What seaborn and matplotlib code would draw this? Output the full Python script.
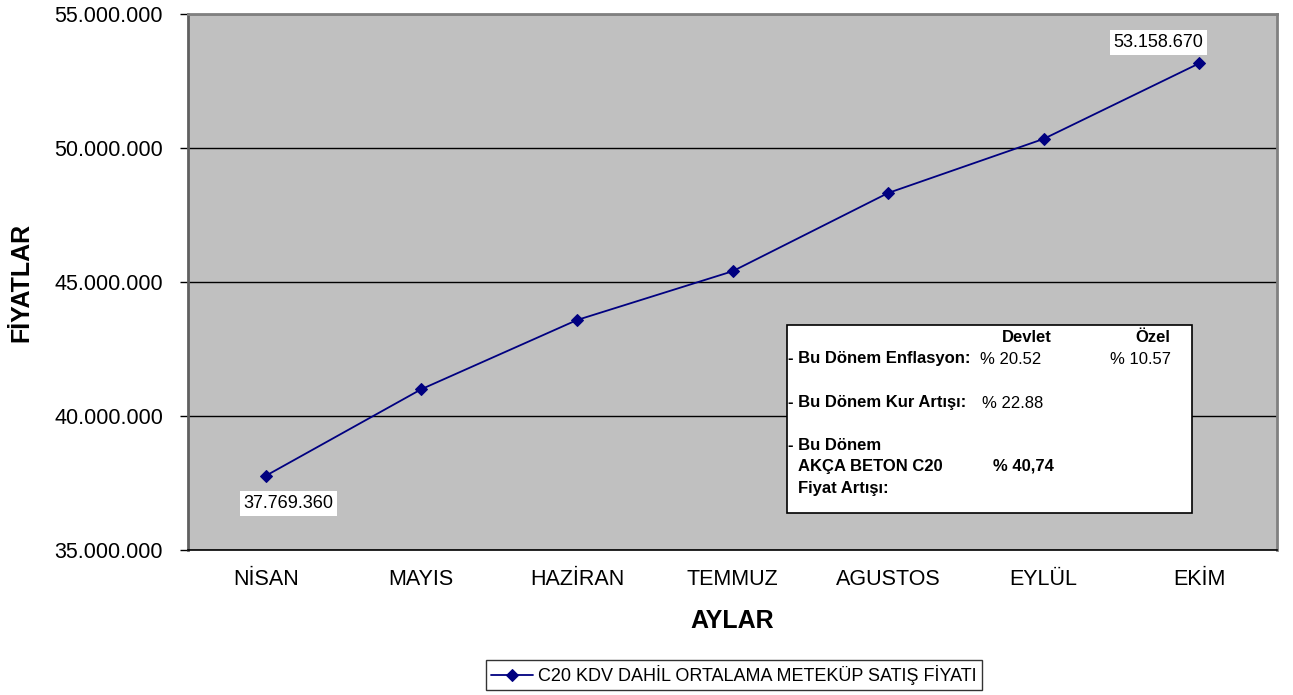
import matplotlib
matplotlib.use("Agg")
import matplotlib.pyplot as plt
import seaborn as sns
import pandas as pd
from matplotlib.ticker import FuncFormatter, FixedLocator
from matplotlib.patches import Rectangle

months = ["NİSAN", "MAYIS", "HAZİRAN", "TEMMUZ", "AGUSTOS", "EYLÜL", "EKİM"]
prices = [37769360, 41000000, 43580000, 45400000, 48320000, 50340000, 53158670]
series_name = "C20 KDV DAHİL ORTALAMA METEKÜP SATIŞ FİYATI"
y_ticks = [35000000, 40000000, 45000000, 50000000, 55000000]

sns.set_style("white")
plt.rcParams["font.family"] = ["Liberation Sans", "DejaVu Sans"]
plt.rcParams.update({"text.color": "black", "axes.labelcolor": "black",
                     "xtick.color": "black", "ytick.color": "black"})

W, H = 1293, 695
fig = plt.figure(figsize=(W / 100, H / 100), dpi=100)
ax = fig.add_axes([188 / W, 1 - 550 / H, 1089 / W, 536 / H])
ax.set_facecolor("#C0C0C0")

df = pd.DataFrame({"month": months, "price": prices, "series": series_name})
df["x"] = range(len(months))
sns.lineplot(data=df, x="x", y="price", hue="series", palette=["#000080"],
             marker="D", markersize=6, markeredgecolor="#000080",
             linewidth=1.3, ax=ax, legend=True, sort=False)

ax.set_xlim(-0.5, len(months) - 0.5)
ax.set_ylim(y_ticks[0], y_ticks[-1])
ax.set_yticks(y_ticks)
ax.yaxis.set_major_formatter(FuncFormatter(lambda v, p: f"{v:,.0f}".replace(",", ".")))
ax.set_xticks(range(len(months)))
ax.set_xticklabels(months)
ax.xaxis.set_minor_locator(FixedLocator([i - 0.5 for i in range(len(months) + 1)]))
ax.tick_params(axis="x", which="major", length=0, pad=14, labelsize=15.5)
ax.tick_params(axis="x", which="minor", length=6, width=1, color="black", direction="out")
ax.tick_params(axis="y", which="major", length=6, width=1, color="black", direction="out",
               pad=12, labelsize=15.5, left=True)
ax.grid(axis="y", color="black", linewidth=1)
ax.set_axisbelow(True)
for s in ["top", "right"]:
    ax.spines[s].set_color("#808080")
    ax.spines[s].set_linewidth(2)
ax.spines["left"].set_color("#606060")
ax.spines["left"].set_linewidth(2)
ax.spines["bottom"].set_color("black")
ax.spines["bottom"].set_linewidth(1.2)

ax.set_xlabel("AYLAR", fontsize=18, fontweight="bold", labelpad=13)
ax.set_ylabel("FİYATLAR", fontsize=18, fontweight="bold", labelpad=15)

# data labels
lbl_kw = dict(fontsize=13, ha="center", va="center", textcoords="offset points",
              bbox=dict(boxstyle="square,pad=0.2", facecolor="white", edgecolor="none"))
ax.annotate(f"{prices[0]:,.0f}".replace(",", "."), (0, prices[0]), xytext=(16.5, -20), **lbl_kw)
ax.annotate(f"{prices[-1]:,.0f}".replace(",", "."), (len(months) - 1, prices[-1]), xytext=(-29.5, 15), **lbl_kw)

# legend
ax.get_legend().remove()
handles, labels = ax.get_legend_handles_labels()
leg = fig.legend(handles, labels, loc="center", bbox_to_anchor=(734 / W, 1 - 675 / H),
                 fontsize=13, frameon=True, fancybox=False, edgecolor="black",
                 handlelength=2.3, handletextpad=0.3, borderpad=0.3, borderaxespad=0)
leg.get_frame().set_linewidth(1)

# info box
def P(x, y):
    return (x / W, 1 - y / H)

rect = Rectangle(P(787, 513), (1192 - 787) / W, (513 - 325) / H, transform=fig.transFigure,
                 facecolor="white", edgecolor="black", linewidth=1.2, zorder=5)
fig.add_artist(rect)
texts = [
    ("Devlet", 1027, 338, "center", "bold"),
    ("Özel", 1153, 338, "center", "bold"),
    ("- Bu Dönem Enflasyon:", 788, 359, "left", "bold"),
    ("% 20.52", 980, 359, "left", "normal"),
    ("% 10.57", 1110, 359, "left", "normal"),
    ("- Bu Dönem Kur Artışı:", 788, 402, "left", "bold"),
    ("% 22.88", 982, 403, "left", "normal"),
    ("- Bu Dönem", 788, 445, "left", "bold"),
    ("AKÇA BETON C20", 798, 466, "left", "bold"),
    ("% 40,74", 993, 466, "left", "bold"),
    ("Fiyat Artışı:", 798, 488, "left", "bold"),
]
for t, x, y, ha, fw in texts:
    fig.text(*P(x, y), t, ha=ha, va="center", fontsize=12, fontweight=fw, zorder=6)

fig.savefig("out.png", dpi=100)
